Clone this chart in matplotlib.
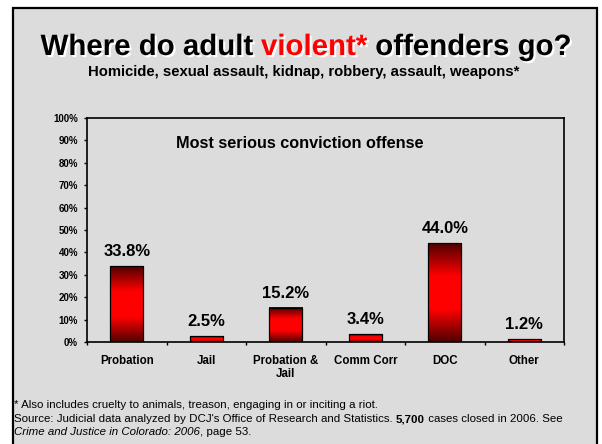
import numpy as np
import matplotlib
matplotlib.use("Agg")
import matplotlib.pyplot as plt
import matplotlib.patheffects as pe
from matplotlib.colors import LinearSegmentedColormap
from matplotlib.patches import Rectangle

plt.rcParams["font.family"] = ["Liberation Sans", "DejaVu Sans"]

categories = ["Probation", "Jail", "Probation &\nJail", "Comm Corr", "DOC", "Other"]
values = [33.8, 2.5, 15.2, 3.4, 44.0, 1.2]
yticks = [0, 10, 20, 30, 40, 50, 60, 70, 80, 90, 100]

W, H = 602, 444
bg = "#dcdcdc"
fig = plt.figure(figsize=(W / 100, H / 100), dpi=100)
fig.patch.set_facecolor("white")

# slide frame
frame = Rectangle((13 / W, -0.05), 584 / W, 1.05 - 8 / H, transform=fig.transFigure,
                  facecolor=bg, edgecolor="black", linewidth=1.6, zorder=-5)
fig.patches.append(frame)

ax = fig.add_axes([87 / W, 1 - 342 / H, (564 - 87) / W, (342 - 118) / H])
ax.set_facecolor(bg)

cmap = LinearSegmentedColormap.from_list("bar", ["#500000", "#ff0000", "#ff0000", "#500000"])
grad = np.linspace(0, 1, 256).reshape(-1, 1)

x = np.arange(len(categories))
w = 0.42
for xi, v in zip(x, values):
    ax.imshow(grad, cmap=cmap, aspect="auto", extent=[xi - w / 2, xi + w / 2, 0, v],
              origin="lower", zorder=2)
    ax.add_patch(Rectangle((xi - w / 2, 0), w, v, facecolor="none", edgecolor="black",
                           linewidth=0.9, zorder=3))
    ax.text(xi, v + 4.5, f"{v:.1f}%", ha="center", va="baseline",
            fontsize=12, fontweight="bold", zorder=4)

ax.set_xlim(-0.5, len(categories) - 0.5)
ax.set_ylim(0, 100)
ax.set_yticks(yticks)
ax.set_yticklabels([f"{t}%" for t in yticks], fontsize=7, fontweight="bold")
ax.set_xticks(np.arange(len(categories) + 1) - 0.5)
ax.set_xticklabels([])
ax.set_xticks(x, minor=True)
ax.set_xticklabels(categories, minor=True, fontsize=8.3, fontweight="bold")
ax.tick_params(axis="x", which="minor", length=0, pad=9)
ax.tick_params(axis="x", which="major", length=2.5, direction="out", width=1)
ax.tick_params(axis="y", length=2.2, direction="out", width=1, pad=4.3)
for s in ax.spines.values():
    s.set_linewidth(1.2)

fig.text(176 / W, 1 - 143 / H, "Most serious conviction offense",
         ha="left", va="center", fontsize=11.7, fontweight="bold")

# title with red word
shadow = [pe.withSimplePatchShadow(offset=(1.5, -1.5), shadow_rgbFace="white", alpha=1)]
parts = [("Where do adult ", "black"), ("violent*", "#ff0000"), (" offenders go?", "black")]
fig.canvas.draw()
renderer = fig.canvas.get_renderer()
texts = []
total = 0
for s, c in parts:
    t = fig.text(0, 1 - 55 / H, s, color=c, fontsize=21.2, fontweight="bold",
                 va="baseline", ha="left", path_effects=shadow)
    bb = t.get_window_extent(renderer)
    texts.append((t, bb.width))
    total += bb.width
xpos = 306 - total / 2
for t, wd in texts:
    t.set_x(xpos / W)
    xpos += wd

fig.text(304 / W, 1 - 76 / H, "Homicide, sexual assault, kidnap, robbery, assault, weapons*",
         ha="center", va="baseline", fontsize=10.7, fontweight="bold")

fs = 8.25
y1, y2, y3 = 408, 422, 435
fig.text(14 / W, 1 - y1 / H, "* Also includes cruelty to animals, treason, engaging in or inciting a riot.",
         ha="left", va="baseline", fontsize=fs)
src1 = fig.text(14 / W, 1 - y2 / H,
                "Source: Judicial data analyzed by DCJ's Office of Research and Statistics. ",
                ha="left", va="baseline", fontsize=fs)
b1 = src1.get_window_extent(renderer)
src2 = fig.text(b1.x1 / W, 1 - y2 / H, "5,700", ha="left", va="baseline",
                fontsize=fs, fontweight="bold")
b2 = src2.get_window_extent(renderer)
fig.text(b2.x1 / W, 1 - y2 / H, " cases closed in 2006. See", ha="left",
         va="baseline", fontsize=fs)
src4 = fig.text(14 / W, 1 - y3 / H, "Crime and Justice in Colorado: 2006", ha="left",
                va="baseline", fontsize=fs, style="italic")
b4 = src4.get_window_extent(renderer)
fig.text(b4.x1 / W, 1 - y3 / H, ", page 53.", ha="left", va="baseline", fontsize=fs)

fig.savefig("out.png", dpi=100, facecolor="white")
